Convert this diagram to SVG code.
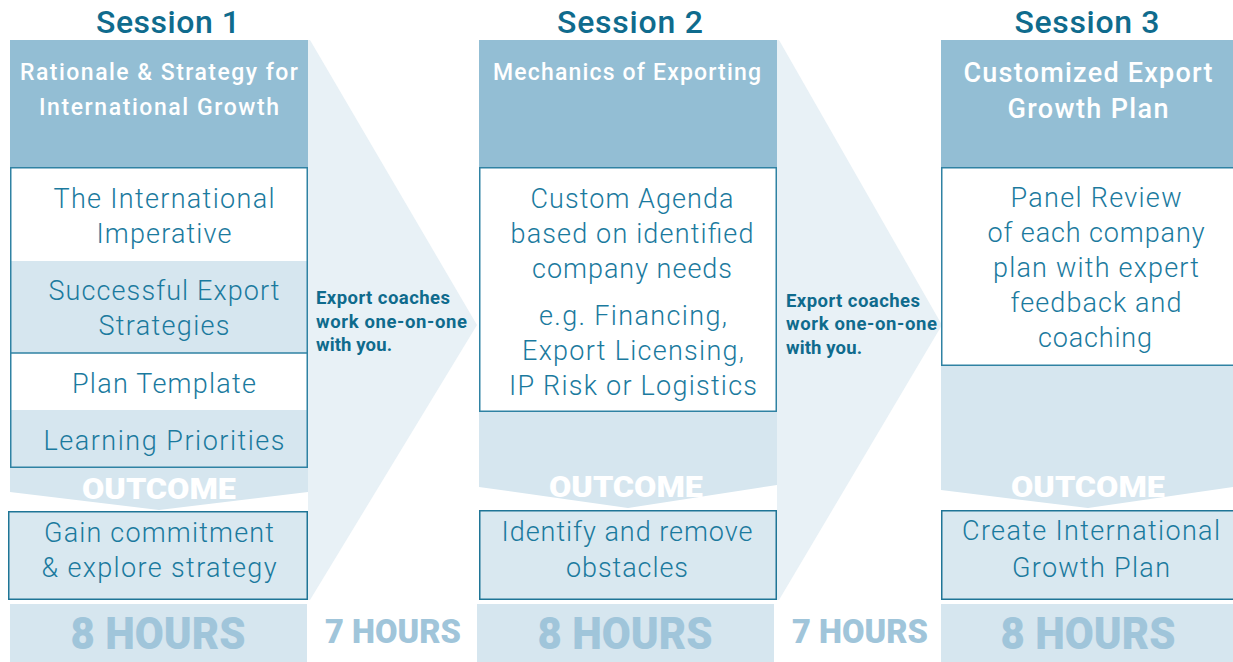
<svg xmlns="http://www.w3.org/2000/svg" width="1233" height="662" viewBox="0 0 1233 662">
<style>
.title{font-family:Roboto,"Liberation Sans",sans-serif;font-weight:500;font-size:32px;fill:#0f6b8d;text-anchor:middle}
.head{font-family:Roboto,"Liberation Sans",sans-serif;font-weight:500;font-size:23px;fill:#ffffff;text-anchor:middle}
.head3{font-family:Roboto,"Liberation Sans",sans-serif;font-weight:500;font-size:27px;fill:#ffffff;text-anchor:middle}
.body{font-family:Roboto,"Liberation Sans",sans-serif;font-weight:300;font-size:27px;fill:#1b7a9e;text-anchor:middle}
.out{font-family:Roboto,"Liberation Sans",sans-serif;font-weight:900;font-size:29px;fill:#ffffff;text-anchor:middle}
.hrs{font-family:Roboto,"Liberation Sans",sans-serif;font-weight:900;font-size:45px;fill:#a0c5da;text-anchor:middle}
.hrs7{font-family:Roboto,"Liberation Sans",sans-serif;font-weight:900;font-size:33px;fill:#a0c5da;text-anchor:middle}
.coach{font-family:Roboto,"Liberation Sans",sans-serif;font-weight:700;font-size:18.5px;fill:#0f6b8d}
.hdr{fill:#93bed4}
.lt{fill:#d6e6ef}
.box{fill:none;stroke:#2f82a3;stroke-width:1.5}
.obox{fill:#d9e8f0;stroke:#1f7596;stroke-width:1.5}
.arrow{fill:#e8f1f6}
</style>
<g id="connectors">
<polygon class="arrow" points="308,40 310,40 477,325 310,600 308,600"/>
<polygon class="arrow" points="777,40 779,40 942,325 779,600 777,600"/>
<g id="coach1">
<text class="coach" x="316" y="304" textLength="134">Export coaches</text>
<text class="coach" x="316" y="328" textLength="151">work one-on-one</text>
<text class="coach" x="316" y="351" textLength="76">with you.</text>
</g>
<g id="coach2">
<text class="coach" x="786" y="307" textLength="134">Export coaches</text>
<text class="coach" x="786" y="330" textLength="151">work one-on-one</text>
<text class="coach" x="786" y="354" textLength="76">with you.</text>
</g>
<text class="hrs7" x="393" y="643" textLength="136" lengthAdjust="spacingAndGlyphs">7 HOURS</text>
<text class="hrs7" x="860" y="643" textLength="136" lengthAdjust="spacingAndGlyphs">7 HOURS</text>
</g>
<g id="session1">
<text class="title" x="168" y="33" textLength="144">Session 1</text>
<rect class="hdr" x="10" y="40" width="298" height="127"/>
<text class="head" x="159" y="80" textLength="278">Rationale &amp; Strategy for</text>
<text class="head" x="159" y="115" textLength="240">International Growth</text>
<rect x="10" y="167" width="298" height="301" fill="#ffffff"/>
<rect class="lt" x="10" y="261" width="298" height="92"/>
<rect class="lt" x="10" y="410" width="298" height="58"/>
<line x1="10" y1="353" x2="308" y2="353" stroke="#2f82a3" stroke-width="1.5"/>
<rect class="box" x="10.75" y="167.75" width="296.5" height="299.5"/>
<text class="body" x="164" y="208" textLength="221">The International</text>
<text class="body" x="164" y="243" textLength="135">Imperative</text>
<text class="body" x="164" y="300" textLength="231">Successful Export</text>
<text class="body" x="164" y="335" textLength="131">Strategies</text>
<text class="body" x="164" y="393" textLength="184">Plan Template</text>
<text class="body" x="164" y="450" textLength="241">Learning Priorities</text>
<polygon class="lt" points="10,468 308,468 308,492 159,510 10,492"/>
<text class="out" x="159" y="499" textLength="154" lengthAdjust="spacingAndGlyphs">OUTCOME</text>
<rect class="obox" x="8.75" y="511.75" width="298.5" height="87.5"/>
<text class="body" x="159" y="542" textLength="230">Gain commitment</text>
<text class="body" x="159" y="577" textLength="235">&amp; explore strategy</text>
<rect class="lt" x="10" y="604" width="297" height="58"/>
<text class="hrs" x="158" y="649" textLength="175" lengthAdjust="spacingAndGlyphs">8 HOURS</text>
</g>
<g id="session2">
<text class="title" x="630" y="33" textLength="146">Session 2</text>
<rect class="hdr" x="479" y="40" width="298" height="127"/>
<text class="head" x="627" y="80" textLength="268">Mechanics of Exporting</text>
<polygon class="lt" points="479,411 777,411 777,485 628,508 479,487"/>
<rect x="479" y="167" width="298" height="245" fill="#ffffff"/>
<rect class="box" x="479.75" y="167.75" width="296.5" height="243.5"/>
<text class="body" x="632" y="208" textLength="203">Custom Agenda</text>
<text class="body" x="632" y="243" textLength="243">based on identified</text>
<text class="body" x="632" y="278" textLength="200">company needs</text>
<text class="body" x="633" y="325" textLength="188">e.g. Financing,</text>
<text class="body" x="633" y="360" textLength="222">Export Licensing,</text>
<text class="body" x="633" y="395" textLength="248">IP Risk or Logistics</text>
<text class="out" x="626" y="497" textLength="154" lengthAdjust="spacingAndGlyphs">OUTCOME</text>
<rect class="obox" x="479.75" y="510.75" width="296.5" height="88.5"/>
<text class="body" x="627" y="541" textLength="251">Identify and remove</text>
<text class="body" x="627" y="577" textLength="122">obstacles</text>
<rect class="lt" x="477" y="604" width="297" height="58"/>
<text class="hrs" x="625" y="649" textLength="175" lengthAdjust="spacingAndGlyphs">8 HOURS</text>
</g>
<g id="session3">
<text class="title" x="1087" y="33" textLength="145">Session 3</text>
<rect class="hdr" x="941" y="40" width="292" height="127"/>
<text class="head3" x="1088" y="82" textLength="249">Customized Export</text>
<text class="head3" x="1088" y="118" textLength="161">Growth Plan</text>
<polygon class="lt" points="941,365 1233,365 1233,487 1088,508 941,490"/>
<rect x="941" y="167" width="292" height="199" fill="#ffffff"/>
<rect class="box" x="941.75" y="167.75" width="293" height="197.5"/>
<text class="body" x="1096" y="207" textLength="171">Panel Review</text>
<text class="body" x="1096" y="242" textLength="217">of each company</text>
<text class="body" x="1096" y="277" textLength="206">plan with expert</text>
<text class="body" x="1096" y="312" textLength="171">feedback and</text>
<text class="body" x="1095" y="347" textLength="114">coaching</text>
<text class="out" x="1088" y="497" textLength="154" lengthAdjust="spacingAndGlyphs">OUTCOME</text>
<rect class="obox" x="941.75" y="510.75" width="293" height="88.5"/>
<text class="body" x="1091" y="540" textLength="258">Create International</text>
<text class="body" x="1091" y="577" textLength="158">Growth Plan</text>
<rect class="lt" x="941" y="604" width="292" height="58"/>
<text class="hrs" x="1088" y="649" textLength="175" lengthAdjust="spacingAndGlyphs">8 HOURS</text>
</g>
</svg>
